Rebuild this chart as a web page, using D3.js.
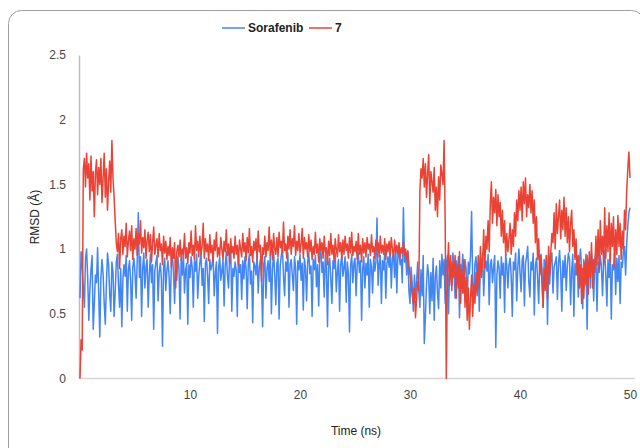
<!DOCTYPE html>
<html>
<head>
<meta charset="utf-8">
<script src="https://cdn.jsdelivr.net/npm/d3@7/dist/d3.min.js"></script>
<style>
  body { margin: 0; background: #fff; }
  svg { font-family: "Liberation Sans", Arial, sans-serif; }
  .tick text { fill: #444; font-size: 12px; }
</style>
</head>
<body>
<svg width="640" height="448" viewBox="0 0 640 448"></svg>
<script>
// sampling interval of the trajectory (ns)
let timeStep = 0.1;

let seriesNames = ["Sorafenib", "7"];
let seriesColors = ["#4285f4", "#ea4335"];

let xTicks = [10, 20, 30, 40, 50];
let yTicks = [0, 0.5, 1, 1.5, 2, 2.5];

// RMSD of Sorafenib, one row per ns
let sorafenib = [
  0.62, 0.98, 0.86, 0.71, 0.55, 0.93, 1.00, 0.78, 0.45, 0.69,
  0.84, 0.95, 0.38, 0.57, 0.80, 0.74, 1.01, 0.66, 0.32, 0.78,
  0.92, 0.81, 0.58, 0.42, 0.73, 0.97, 0.88, 0.65, 0.52, 0.90,
  0.82, 0.48, 0.67, 0.90, 0.96, 0.72, 0.55, 0.85, 0.40, 0.77,
  0.88, 0.79, 0.95, 0.52, 0.84, 0.91, 0.76, 0.45, 0.86, 0.93,
  0.81, 0.62, 0.90, 1.28, 0.78, 0.94, 0.48, 0.85, 0.97, 0.70,
  0.86, 0.92, 0.55, 0.80, 0.96, 0.74, 0.88, 0.38, 0.83, 0.90,
  0.95, 0.60, 0.82, 0.89, 0.77, 0.25, 0.86, 0.93, 0.68, 0.84,
  0.91, 0.79, 0.50, 0.87, 0.95, 0.82, 0.58, 0.90, 0.76, 0.94,
  0.85, 0.46, 0.92, 0.80, 0.97, 0.66, 0.84, 0.89, 0.42, 0.88,
  0.78, 0.94, 0.86, 0.55, 0.91, 0.83, 0.96, 0.62, 0.80, 0.90,
  0.97, 0.72, 0.85, 0.44, 0.89, 0.93, 0.79, 0.58, 0.92, 0.84,
  0.88, 0.95, 0.64, 0.81, 0.90, 0.35, 0.86, 0.94, 0.76, 0.83,
  0.92, 0.56, 0.87, 0.98, 0.80, 0.70, 0.93, 1.02, 0.52, 0.85,
  0.79, 0.90, 0.84, 0.48, 0.95, 0.82, 0.88, 0.61, 0.91, 0.77,
  0.94, 0.85, 0.54, 0.89, 0.96, 0.73, 0.83, 0.43, 0.90, 0.87,
  0.80, 0.97, 0.66, 0.86, 0.92, 0.78, 0.40, 0.88, 0.94, 0.62,
  0.85, 0.91, 0.75, 0.96, 0.50, 0.84, 0.98, 0.81, 0.57, 0.89,
  0.93, 0.46, 0.87, 0.95, 1.01, 0.79, 0.64, 0.90, 0.83, 0.97,
  0.55, 0.88, 0.92, 0.80, 0.68, 0.94, 0.86, 0.42, 0.91, 0.84,
  0.96, 0.76, 0.89, 0.53, 0.93, 0.85, 0.60, 0.90, 0.97, 0.81,
  0.87, 0.48, 0.92, 0.84, 0.95, 0.71, 0.88, 0.56, 0.94, 1.00,
  0.82, 0.90, 0.63, 0.96, 0.86, 0.40, 0.89, 0.93, 0.77, 0.58,
  0.91, 0.85, 0.97, 0.67, 0.83, 0.92, 0.52, 0.88, 0.95, 0.79,
  0.86, 0.94, 0.59, 0.90, 0.81, 0.36, 0.87, 0.96, 0.74, 0.89,
  0.93, 0.64, 0.88, 0.97, 0.82, 0.91, 0.45, 0.85, 0.94, 0.70,
  0.89, 0.80, 0.96, 0.55, 0.92, 0.86, 0.66, 0.94, 0.83, 0.90,
  1.24, 0.72, 0.88, 0.95, 0.58, 0.91, 0.84, 0.97, 0.62, 0.89,
  0.94, 0.86, 1.00, 0.70, 0.93, 0.97, 0.78, 1.02, 0.66, 0.95,
  0.98, 0.88, 0.92, 0.74, 1.32, 0.90, 0.96, 0.80, 0.99, 0.68,
  0.58, 0.86, 0.73, 0.52, 0.80, 0.62, 0.75, 0.90, 0.68, 0.55,
  0.84, 0.64, 0.95, 0.27, 0.48, 0.72, 0.88, 0.79, 0.50, 0.82,
  0.60, 0.93, 0.45, 0.78, 0.87, 0.66, 0.54, 0.91, 0.70, 0.96,
  0.80, 0.92, 0.58, 0.87, 0.95, 0.50, 0.84, 0.90, 0.72, 0.97,
  0.86, 0.62, 0.91, 0.79, 0.94, 0.47, 0.88, 0.83, 0.96, 0.66,
  0.92, 0.85, 0.55, 0.90, 0.81, 0.95, 1.29, 0.74, 0.60, 0.88,
  0.94, 0.78, 0.89, 0.52, 0.93, 0.86, 0.97, 0.64, 0.85, 0.91,
  0.83, 0.96, 0.57, 0.88, 0.92, 0.74, 0.86, 0.95, 0.24, 0.80,
  0.91, 0.85, 0.62, 0.94, 0.80, 0.89, 0.51, 0.96, 0.87, 0.70,
  0.88, 0.93, 0.79, 0.48, 0.90, 0.84, 0.97, 0.60, 0.86, 1.00,
  0.82, 0.67, 0.92, 0.95, 0.56, 0.89, 0.94, 1.02, 0.75, 0.63,
  0.90, 0.84, 0.97, 0.49, 0.87, 0.93, 0.78, 0.58, 0.91, 0.96,
  0.85, 0.55, 0.92, 0.80, 0.95, 0.42, 0.88, 0.73, 0.94, 0.97,
  0.66, 0.86, 0.90, 0.94, 0.61, 0.89, 0.99, 0.82, 0.52, 0.91,
  0.78, 0.95, 0.68, 0.87, 0.97, 0.92, 0.57, 0.84, 0.96, 0.48,
  0.89, 0.80, 0.94, 0.63, 0.90, 1.00, 0.85, 0.54, 0.92, 0.74,
  0.96, 0.38, 0.88, 0.93, 0.70, 0.97, 0.86, 0.60, 0.91, 0.98,
  0.52, 0.90, 0.82, 0.95, 0.87, 0.64, 0.89, 0.99, 0.80, 0.56,
  0.92, 0.78, 0.96, 0.46, 0.88, 0.84, 0.97, 0.65, 0.93, 0.75,
  0.95, 0.58, 0.90, 0.86, 0.98, 1.02, 0.80, 1.05, 1.18, 1.28,
  1.32
];

// RMSD of compound 7, one row per ns
let compound7 = [
  0.00, 0.30, 0.22, 1.62, 1.70, 1.48, 1.74, 1.55, 1.66, 1.38,
  1.72, 1.45, 1.60, 1.25, 1.58, 1.69, 1.42, 1.63, 1.50, 1.70,
  1.36, 1.55, 1.74, 1.40, 1.62, 1.30, 1.52, 1.68, 1.44, 1.84,
  1.55, 1.40, 1.22, 1.05, 0.98, 1.12, 0.85, 1.08, 1.15, 0.96,
  1.10, 1.02, 1.20, 0.94, 1.06, 1.14, 0.99, 1.18, 0.92, 1.08,
  1.00, 1.16, 0.95, 1.12, 1.04, 1.22, 0.97, 1.09, 1.01, 1.15,
  0.93, 1.07, 1.13, 0.98, 1.11, 0.90, 1.05, 1.17, 0.96, 1.03,
  1.08, 0.94, 1.12, 0.99, 1.04, 0.88, 1.10, 0.97, 1.06, 0.92,
  1.02, 0.95, 1.09, 0.86, 1.01, 0.93, 1.05, 0.70, 0.98, 1.03,
  0.94, 1.07, 0.91, 1.00, 0.96, 1.12, 0.93, 1.01, 0.89, 1.05,
  0.97, 1.14, 0.95, 1.03, 0.92, 1.18, 0.99, 1.06, 0.94, 1.10,
  0.96, 1.02, 1.20, 0.93, 1.08, 0.98, 1.04, 0.91, 1.11, 0.97,
  1.03, 0.90, 1.07, 0.99, 1.13, 0.94, 1.01, 0.95, 1.09, 1.00,
  0.92, 1.06, 0.98, 1.15, 0.95, 1.04, 0.89, 1.08, 0.97, 1.02,
  0.93, 1.10, 0.96, 1.03, 0.88, 1.07, 1.00, 0.94, 1.12, 0.98,
  1.05, 0.91, 1.09, 0.97, 1.16, 0.95, 1.02, 0.90, 1.06, 0.99,
  1.08, 0.93, 1.14, 0.98, 1.03, 0.75, 1.01, 0.96, 1.10, 0.94,
  1.05, 0.99, 1.17, 0.95, 1.07, 0.92, 1.12, 1.00, 0.96, 1.09,
  0.94, 1.13, 1.01, 1.06, 0.97, 1.21, 0.99, 1.04, 0.93, 1.10,
  1.00, 1.15, 0.96, 1.08, 1.02, 1.18, 0.95, 1.06, 0.99, 1.12,
  0.97, 1.04, 1.16, 0.93, 1.09, 1.00, 1.05, 0.94, 1.11, 0.98,
  1.07, 0.92, 1.02, 0.96, 1.13, 0.97, 1.04, 0.90, 1.08, 0.99,
  1.05, 0.93, 1.10, 0.97, 1.01, 0.88, 1.06, 0.95, 1.12, 0.96,
  1.03, 0.91, 1.08, 1.00, 0.94, 1.11, 0.98, 1.05, 0.92, 1.07,
  0.96, 1.10, 0.99, 1.04, 0.93, 1.09, 0.97, 1.13, 0.95, 1.02,
  0.98, 1.06, 0.92, 1.12, 0.96, 1.03, 0.90, 1.08, 0.97, 1.05,
  0.94, 1.09, 1.00, 1.04, 0.95, 1.11, 0.98, 1.02, 0.93, 1.07,
  0.99, 1.05, 0.94, 1.10, 0.97, 1.03, 0.96, 1.08, 0.92, 1.04,
  0.98, 1.06, 0.95, 1.09, 1.00, 0.94, 1.07, 0.97, 1.03, 0.96,
  1.05, 0.93, 1.01, 0.97, 1.06, 0.95, 1.00, 0.92, 0.98, 0.88,
  0.80, 0.72, 0.65, 0.58, 0.70, 0.47, 0.62, 0.75, 0.68, 1.45,
  1.62, 1.55, 1.70, 1.48, 1.66, 1.40, 1.58, 1.73, 1.35, 1.60,
  1.52, 1.44, 1.63, 1.30, 1.48, 1.25, 1.56, 1.38, 1.65, 1.58,
  1.50, 1.84, 1.20, 0.00, 0.82, 1.05, 0.72, 0.95, 0.68, 0.90,
  0.78, 0.95, 0.62, 0.88, 0.70, 0.98, 0.58, 0.84, 0.66, 0.92,
  0.55, 0.78, 0.45, 0.70, 0.38, 0.62, 0.80, 0.48, 0.72, 0.58,
  0.82, 0.64, 0.95, 0.70, 1.02, 0.78, 0.90, 1.15, 0.85, 1.10,
  1.00, 1.22, 0.98, 1.35, 1.52, 1.20, 1.40, 1.28, 1.46, 1.18,
  1.42, 1.25, 1.36, 1.10, 1.30, 1.05, 1.22, 0.95, 1.12, 0.98,
  1.08, 1.20, 0.96, 1.15, 1.02, 1.28, 1.10, 1.38, 1.22, 1.45,
  1.30, 1.48, 1.22, 1.52, 1.35, 1.55, 1.25, 1.42, 1.32, 1.50,
  1.28, 1.45, 1.20, 1.38, 1.05, 1.25, 0.92, 1.08, 0.80, 0.95,
  0.72, 0.55, 0.85, 0.68, 0.95, 0.62, 1.02, 0.80, 0.98, 1.12,
  1.05, 1.28, 1.00, 1.35, 1.12, 1.25, 1.38, 1.08, 1.30, 1.15,
  1.40, 1.10, 1.32, 1.05, 1.25, 0.98, 1.20, 1.30, 1.02, 1.15,
  0.92, 1.08, 0.80, 0.95, 0.70, 0.88, 0.58, 0.85, 0.62, 0.90,
  0.72, 0.95, 0.65, 0.98, 0.78, 1.05, 0.70, 0.92, 0.82, 1.10,
  0.88, 1.15, 0.84, 1.22, 0.96, 1.10, 0.88, 1.32, 0.93, 1.18,
  0.98, 1.28, 0.90, 1.20, 1.02, 1.25, 0.86, 1.15, 0.96, 1.26,
  1.02, 1.20, 0.92, 1.14, 1.00, 1.30, 1.15, 1.45, 1.62, 1.75,
  1.55
];

let svg = d3.select("svg");
let xRng = [80, 630];
let yRng = [378.5, 55];

// card frame
svg.append("rect")
  .attr("x", 8.5).attr("y", 10.5)
  .attr("width", 636).attr("height", 460)
  .attr("rx", 13)
  .attr("fill", "none")
  .attr("stroke", "#9e9e9e")
  .attr("stroke-width", 1);

let xScale = d3.scaleLinear().domain([0, 50]).range(xRng);
let yScale = d3.scaleLinear().domain([0, 2.5]).range(yRng);

// axes
let xAxis = svg.append("g")
  .attr("transform", `translate(0,${yRng[0]})`)
  .call(d3.axisBottom(xScale).tickValues(xTicks).tickSize(0).tickPadding(12));
xAxis.select(".domain").attr("stroke", "#d6d6d6").attr("stroke-width", 1.5)
  .attr("d", `M${xRng[0]},0H${xRng[1] + 5}`);

let yAxis = svg.append("g")
  .attr("transform", `translate(${xRng[0] - 1},0)`)
  .call(d3.axisLeft(yScale).tickValues(yTicks).tickSize(0).tickPadding(13)
    .tickFormat((d) => d));
yAxis.select(".domain").attr("stroke", "#bdbdbd").attr("stroke-width", 1.5);

svg.selectAll(".tick text").attr("font-family", "Liberation Sans, Arial, sans-serif");

// lines
let makeLine = d3.line()
  .x((d, i) => xScale(i * timeStep))
  .y((d) => yScale(d));

let fig = svg.append("g");
[sorafenib, compound7].forEach((vals, k) => {
  fig.append("path")
    .datum(vals)
    .attr("d", makeLine)
    .attr("fill", "none")
    .attr("stroke", seriesColors[k])
    .attr("stroke-width", 1.5)
    .attr("stroke-linejoin", "round");
});

// axis titles
svg.append("text")
  .attr("x", 356).attr("y", 435)
  .attr("text-anchor", "middle")
  .attr("font-size", 12).attr("fill", "#222")
  .text("Time (ns)");

svg.append("text")
  .attr("transform", "translate(39,217) rotate(-90)")
  .attr("text-anchor", "middle")
  .attr("font-size", 12).attr("fill", "#222")
  .text("RMSD (Å)");

// legend
let legendItems = [
  { name: seriesNames[0], color: seriesColors[0], x: 222 },
  { name: seriesNames[1], color: seriesColors[1], x: 309 },
];
let legend = svg.append("g")
  .selectAll("g")
  .data(legendItems)
  .enter()
  .append("g")
  .attr("transform", (d) => `translate(${d.x},28)`);
legend.append("line")
  .attr("x1", 0).attr("x2", 23)
  .attr("stroke", (d) => d.color).attr("stroke-width", 1.5);
legend.append("text")
  .attr("x", 26).attr("dy", "0.35em")
  .attr("font-size", 12).attr("font-weight", "bold").attr("fill", "#222")
  .text((d) => d.name);
</script>
</body>
</html>
